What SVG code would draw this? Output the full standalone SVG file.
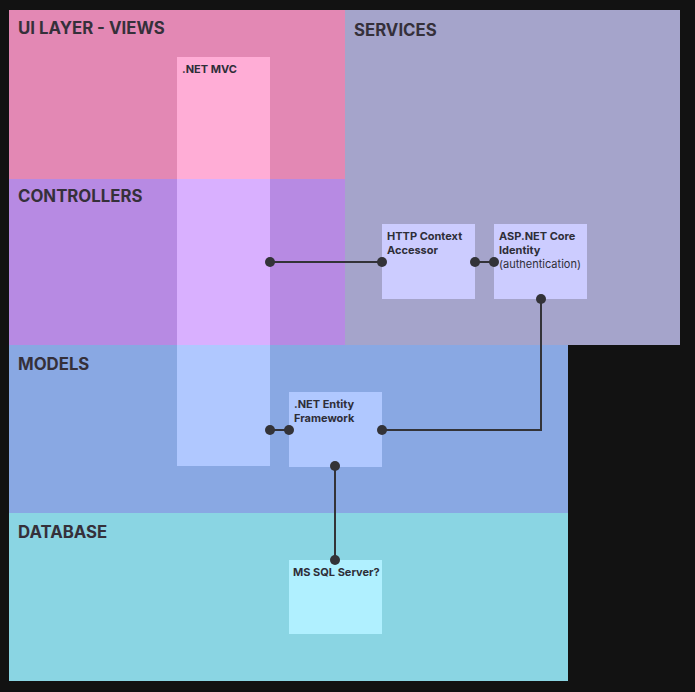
<svg xmlns="http://www.w3.org/2000/svg" width="695" height="692" viewBox="0 0 695 692">
<style>
.layer{font-family:Inter,"Liberation Sans",sans-serif;font-weight:700;font-size:16.8px;fill:#35303a}
.lbl{font-family:Inter,"Liberation Sans",sans-serif;font-weight:700;font-size:11px;fill:#2e2e38}
.reg{font-weight:400}
.wire{fill:none;stroke:#333338;stroke-width:2}
.dot{fill:#333338}
</style>
<rect x="0" y="0" width="695" height="692" fill="#121212"/>
<g id="layers">
<rect id="services" x="345" y="10" width="335" height="335" fill="#a5a4cb"/>
<rect id="ui-layer" x="9" y="10" width="336" height="169" fill="#e388b4"/>
<rect id="controllers" x="9" y="179" width="336" height="166" fill="#b78ae3"/>
<rect id="models" x="9" y="345" width="559" height="168" fill="#89a8e3"/>
<rect id="database" x="9" y="513" width="559" height="168" fill="#8ad5e3"/>
<text class="layer" x="18" y="34">UI LAYER - VIEWS</text>
<text class="layer" x="354" y="36">SERVICES</text>
<text class="layer" x="18" y="202">CONTROLLERS</text>
<text class="layer" x="18" y="370">MODELS</text>
<text class="layer" x="18" y="538">DATABASE</text>
</g>
<g id="net-mvc">
<rect x="177" y="57" width="93" height="122" fill="#ffadd6"/>
<rect x="177" y="179" width="93" height="166" fill="#d9b0ff"/>
<rect x="177" y="345" width="93" height="121" fill="#b0c8ff"/>
<text class="lbl" x="182" y="73">.NET MVC</text>
</g>
<g id="http-context-accessor">
<rect x="382" y="224" width="93" height="75" fill="#ccccff"/>
<text class="lbl" x="387" y="240">HTTP Context</text>
<text class="lbl" x="387" y="254">Accessor</text>
</g>
<g id="aspnet-identity">
<rect x="494" y="224" width="93" height="75" fill="#ccccff"/>
<text class="lbl" x="499" y="240">ASP.NET Core</text>
<text class="lbl" x="499" y="254">Identity</text>
<text class="lbl reg" x="499" y="268">(authentication)</text>
</g>
<g id="entity-framework">
<rect x="289" y="392" width="93" height="75" fill="#b0c8ff"/>
<text class="lbl" x="294" y="408">.NET Entity</text>
<text class="lbl" x="294" y="422">Framework</text>
</g>
<g id="ms-sql-server">
<rect x="289" y="560" width="93" height="74" fill="#b0f0ff"/>
<text class="lbl" x="293" y="576">MS SQL Server?</text>
</g>
<g id="connectors">
<path class="wire" d="M270 262H382"/>
<path class="wire" d="M475 262H494"/>
<path class="wire" d="M541 299V430H382"/>
<path class="wire" d="M270 430H289"/>
<path class="wire" d="M335 466V560"/>
<circle class="dot" cx="270" cy="262" r="5"/>
<circle class="dot" cx="382" cy="262" r="5"/>
<circle class="dot" cx="475" cy="262" r="5"/>
<circle class="dot" cx="494" cy="262" r="5"/>
<circle class="dot" cx="541" cy="299" r="5"/>
<circle class="dot" cx="382" cy="430" r="5"/>
<circle class="dot" cx="270" cy="430" r="5"/>
<circle class="dot" cx="289" cy="430" r="5"/>
<circle class="dot" cx="335" cy="466" r="5"/>
<circle class="dot" cx="335" cy="560" r="5"/>
</g>
</svg>
